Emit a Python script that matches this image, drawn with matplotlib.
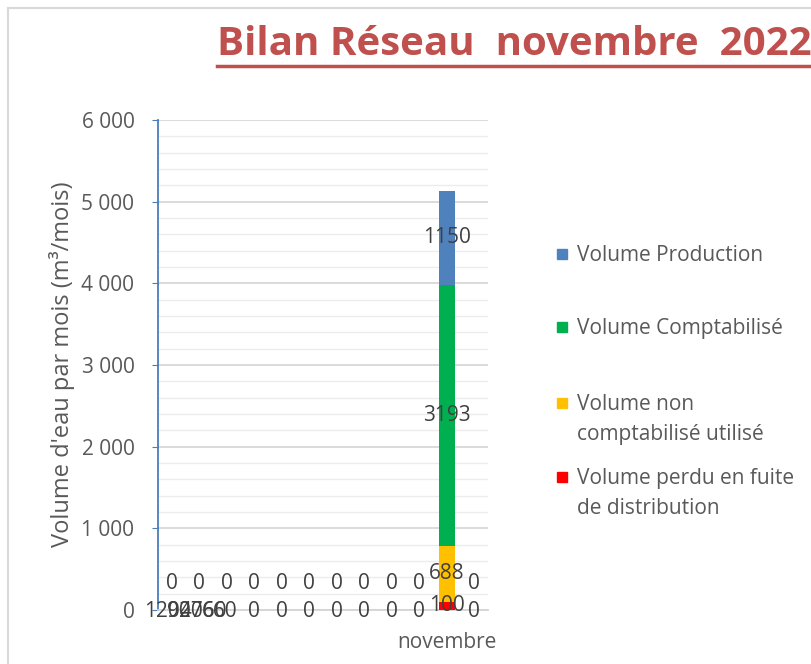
import numpy as np
import matplotlib.pyplot as plt
from matplotlib.patches import Rectangle
from matplotlib.lines import Line2D
from matplotlib.ticker import FuncFormatter, MultipleLocator

plt.rcParams['font.family'] = ['Open Sans', 'DejaVu Sans']

# Données (12 mois, seul novembre est renseigné)
mois = ['', '', '', '', '', '', '', '', '', '', 'novembre', '']
vol_perdu = [0, 0, 0, 0, 0, 0, 0, 0, 0, 0, 100, 0]
vol_non_compta = [0, 0, 0, 0, 0, 0, 0, 0, 0, 0, 688, 0]
vol_compta = [0, 0, 0, 0, 0, 0, 0, 0, 0, 0, 3193, 0]
vol_production = [0, 0, 0, 0, 0, 0, 0, 0, 0, 0, 1150, 0]
# étiquettes superposées sur les premiers mois
etiquettes_chevauchees = ['1204', '907', '2060', '660']

noms = ['Volume Production', 'Volume Comptabilisé',
        'Volume non\ncomptabilisé utilisé', 'Volume perdu en fuite\nde distribution']
couleurs = {'perdu': '#ff0000', 'non': '#ffc000', 'compta': '#00b050', 'prod': '#4f81bd'}

W, H = 811, 664
fig = plt.figure(figsize=(W / 100, H / 100), dpi=100)
ax = fig.add_axes([158 / W, 54 / H, 330 / W, 490 / H])

x = np.arange(len(mois))
largeur = 0.58
bas = np.zeros(len(mois))
series = [(vol_perdu, couleurs['perdu']), (vol_non_compta, couleurs['non']),
          (vol_compta, couleurs['compta']), (vol_production, couleurs['prod'])]
centres = []
for vals, col in series:
    vals = np.array(vals, dtype=float)
    ax.bar(x, vals, largeur, bottom=bas, color=col, zorder=3)
    centres.append(bas + vals / 2)
    bas = bas + vals

lab_col = '#404040'
fs = 15
# étiquettes des segments non nuls
for (vals, col), c in zip(series, centres):
    for i, v in enumerate(vals):
        if v != 0:
            ax.text(x[i], c[i], str(v), ha='center', va='center', fontsize=fs,
                    color=lab_col, zorder=4)

# étiquettes "0" des mois vides (deux rangées)
for i, v in enumerate(vol_perdu):
    if v == 0 and i > 2:
        ax.annotate('0', (x[i], 0), xytext=(0, -1), textcoords='offset points',
                    ha='center', va='center', fontsize=fs, color=lab_col, zorder=4)
for i, v in enumerate(vol_non_compta):
    if v == 0:
        ax.annotate('0', (x[i], 0), xytext=(0, 19), textcoords='offset points',
                    ha='center', va='center', fontsize=fs, color=lab_col, zorder=4)
for k, s in enumerate(etiquettes_chevauchees):
    ax.annotate(s, (x[0], 0), xytext=(-3 + k * 12.5, -1), textcoords='offset points',
                ha='center', va='center', fontsize=fs, color=lab_col, zorder=4)

ax.set_xlim(-0.5, len(mois) - 0.5)
ax.set_ylim(0, 6000)
ax.yaxis.set_major_locator(MultipleLocator(1000))
ax.yaxis.set_minor_locator(MultipleLocator(200))
ax.yaxis.set_major_formatter(FuncFormatter(lambda v, p: f"{v:,.0f}".replace(',', ' ')))
ax.grid(which='major', axis='y', color='#d4d4d4', lw=1.2, zorder=0)
ax.grid(which='minor', axis='y', color='#ececec', lw=1, zorder=0)
ax.set_axisbelow(True)

for s in ['top', 'right']:
    ax.spines[s].set_visible(False)
ax.spines['left'].set_color('#4a7ebb')
ax.spines['left'].set_linewidth(1.3)
ax.spines['bottom'].set_color('#d4d4d4')
ax.spines['bottom'].set_linewidth(1.3)

ax.tick_params(axis='y', which='major', direction='out', length=4, color='#4a7ebb',
               labelsize=fs, labelcolor='#595959', pad=13)
ax.tick_params(axis='y', which='minor', length=0)
ax.set_xticks(x)
ax.set_xticklabels(mois)
ax.tick_params(axis='x', length=0, labelsize=fs, labelcolor='#595959', pad=16)

fig.text(62 / W, 1 - 364 / H, "Volume d'eau par mois (m³/mois)", rotation=90,
         ha='center', va='center', fontsize=17, color='#595959')

# titre souligné
fig.text(217 / W, 1 - 55 / H, 'Bilan Réseau  novembre  2022', ha='left', va='baseline',
         fontsize=29, fontweight='bold', color='#c0504d')
fig.add_artist(Line2D([217 / W, 1], [1 - 66 / H, 1 - 66 / H], color='#c0504d', lw=2.5))

# légende manuelle (une ligne de texte tous les 30 px)
leg_y = [254, 327, 403, 477]
for nom, col, y in zip(noms, [couleurs['prod'], couleurs['compta'], couleurs['non'], couleurs['perdu']], leg_y):
    fig.add_artist(Rectangle((557 / W, 1 - (y + 5) / H), 10 / W, 10 / H, color=col))
    for j, ligne in enumerate(nom.split('\n')):
        fig.text(577 / W, 1 - (y + 7 + 30 * j) / H, ligne, ha='left', va='baseline',
                 fontsize=15, color='#595959')

# cadre
fig.add_artist(Line2D([8 / W, 8 / W], [0, 1 - 8 / H], color='#d9d9d9', lw=1.5))
fig.add_artist(Line2D([8 / W, 1], [1 - 8 / H, 1 - 8 / H], color='#d9d9d9', lw=1.5))

fig.savefig('out.png', dpi=100)
